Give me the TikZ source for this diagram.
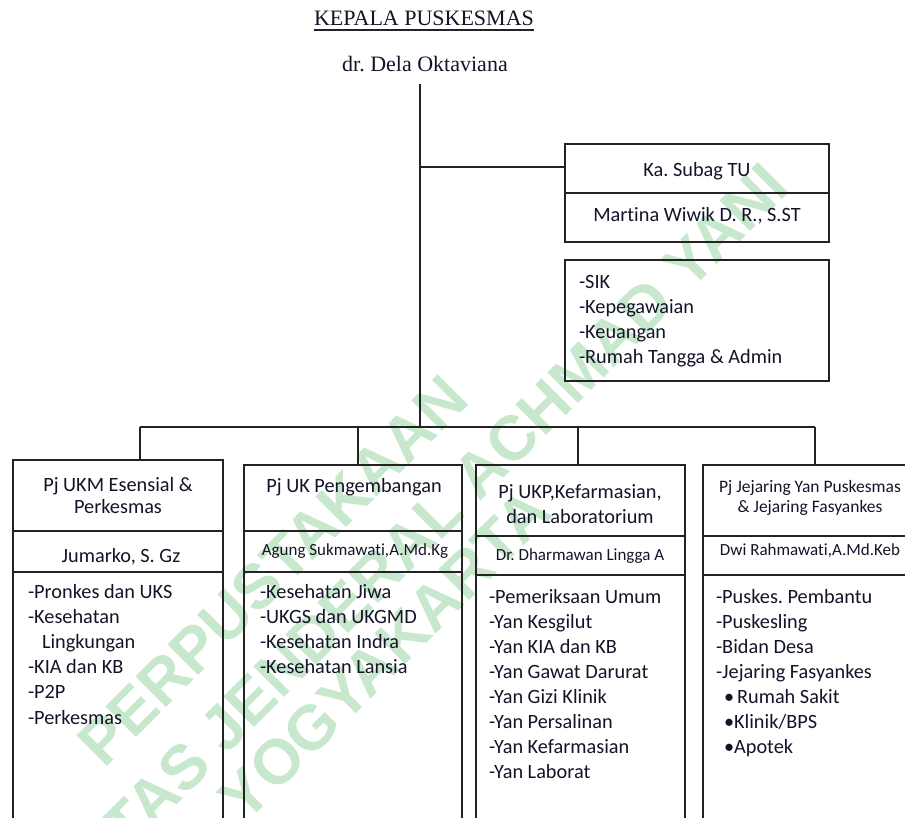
\documentclass[tikz,border=0pt]{standalone}
\usepackage{fontspec}
\setmainfont{Carlito}[Ligatures=NoCommon]
\newfontfamily\tnr{Liberation Serif}
\newfontfamily\wmfont{Liberation Sans}
\definecolor{wmc}{RGB}{200,232,205}
\definecolor{lnc}{RGB}{35,35,35}
\definecolor{txc}{RGB}{20,20,40}
\begin{document}
\frenchspacing
\begin{tikzpicture}[x=1pt,y=-1pt,
  cell/.style={draw=lnc, line width=1.3pt, inner sep=0pt, outer sep=0pt, anchor=north west},
  conn/.style={draw=lnc, line width=1.3pt},
  t/.style={inner sep=0pt, outer sep=0pt, anchor=base, align=center, text=txc, font=\fontsize{20.3}{23}\selectfont},
  ts/.style={t, font=\fontsize{17}{20}\selectfont},
  lst/.style={inner sep=0pt, outer sep=0pt, anchor=base west, align=left, text=txc, font=\fontsize{20.3}{25.2}\selectfont},
  wmk/.style={inner sep=0pt, anchor=base, rotate=45, text=wmc, font=\wmfont\bfseries\fontsize{63}{63}\selectfont}]
\path[use as bounding box] (0,0) rectangle (905,818);
\clip (0,0) rectangle (905,818);
% watermark
\node[wmk] (wm1) at (288,586) {PERPUSTAKAAN};
\node[wmk] (wm2) at (355,627) {UNIVERSITAS JENDERAL ACHMAD YANI};
\node[wmk] (wm3) at (400,670) {YOGYAKARTA};
% head (multi-line nodes are anchored at the baseline of their last line)
\node[t, font=\tnr\fontsize{22}{26}\selectfont] (title) at (424,26) {KEPALA PUSKESMAS};
\draw[lnc, line width=1.2pt] ([yshift=-4pt]title.base west) -- ([yshift=-4pt]title.base east);
\node[t, font=\tnr\fontsize{22}{26}\selectfont] (head) at (425,72) {dr. Dela Oktaviana};
% subag
\node[cell, minimum width=264pt, minimum height=49pt] (subA) at (565,144) {};
\node[cell, minimum width=264pt, minimum height=49pt] (subN) at (565,193) {};
\node[cell, minimum width=264pt, minimum height=121pt] (subL) at (565,260) {};
\node[t] (subAt) at (697,177) {Ka. Subag TU};
\node[t] (subNt) at (697,222) {Martina Wiwik D. R., S.ST};
\node[lst, font=\fontsize{20.3}{25}\selectfont] (subLt) at (579,363) {-SIK\\-Kepegawaian\\-Keuangan\\-Rumah Tangga \& Admin};
% box 1
\node[cell, minimum width=210pt, minimum height=71pt] (b1h) at (13,460) {};
\node[cell, minimum width=210pt, minimum height=41pt] (b1n) at (13,531) {};
\node[cell, minimum width=210pt, minimum height=280pt] (b1l) at (13,572) {};
\node[t, font=\fontsize{20.3}{22.5}\selectfont] (b1ht) at (118,513.5) {Pj UKM Esensial \&\\Perkesmas};
\node[t] (b1nt) at (121,562) {Jumarko, S. Gz};
\node[lst] (b1lt) at (28,724) {-Pronkes dan UKS\\-Kesehatan\\\hspace*{14pt}Lingkungan\\-KIA dan KB\\-P2P\\-Perkesmas};
% box 2
\node[cell, minimum width=218pt, minimum height=66pt] (b2h) at (244,465) {};
\node[cell, minimum width=218pt, minimum height=41pt] (b2n) at (244,531) {};
\node[cell, minimum width=218pt, minimum height=280pt] (b2l) at (244,572) {};
\node[t] (b2ht) at (354,492) {Pj UK Pengembangan};
\node[ts] (b2nt) at (355,555) {Agung Sukmawati,A.Md.Kg};
\node[lst] (b2lt) at (260,673.6) {-Kesehatan Jiwa\\-UKGS dan UKGMD\\-Kesehatan Indra\\-Kesehatan Lansia};
% box 3
\node[cell, minimum width=209pt, minimum height=71pt] (b3h) at (476,465) {};
\node[cell, minimum width=209pt, minimum height=39pt] (b3n) at (476,536) {};
\node[cell, minimum width=209pt, minimum height=280pt] (b3l) at (476,575) {};
\node[t, font=\fontsize{20.3}{25}\selectfont] (b3ht) at (580,523) {Pj UKP,Kefarmasian,\\dan Laboratorium};
\node[ts] (b3nt) at (580,560) {Dr. Dharmawan Lingga A};
\node[lst, font=\fontsize{20.3}{25}\selectfont] (b3lt) at (489,778) {-Pemeriksaan Umum\\-Yan Kesgilut\\-Yan KIA dan KB\\-Yan Gawat Darurat\\-Yan Gizi Klinik\\-Yan Persalinan\\-Yan Kefarmasian\\-Yan Laborat};
% box 4
\node[cell, minimum width=214pt, minimum height=71pt] (b4h) at (703,465) {};
\node[cell, minimum width=214pt, minimum height=39pt] (b4n) at (703,536) {};
\node[cell, minimum width=214pt, minimum height=280pt] (b4l) at (703,575) {};
\node[ts, font=\fontsize{17.5}{20.5}\selectfont] (b4ht) at (810,512.5) {Pj Jejaring Yan Puskesmas\\\& Jejaring Fasyankes};
\node[ts] (b4nt) at (810,555) {Dwi Rahmawati,A.Md.Keb};
\node[lst, font=\fontsize{20.3}{25}\selectfont] (b4lt) at (716,753) {-Puskes. Pembantu\\-Puskesling\\-Bidan Desa\\-Jejaring Fasyankes\\\hspace*{8pt}•\hspace{3pt}Rumah Sakit\\\hspace*{8pt}•Klinik/BPS\\\hspace*{8pt}•Apotek};
% connectors
\coordinate (vtop) at (420,84);
\coordinate (jsub) at (420,167);
\coordinate (bus) at (420,427);
\coordinate (k1) at (140,427);
\coordinate (k2) at (358,427);
\coordinate (k3) at (578,427);
\coordinate (k4) at (815,427);
\draw[conn] (vtop) -- (bus);
\draw[conn] (jsub) -- (jsub -| subA.west);
\draw[conn] (k1) -- (k4);
\draw[conn] (k1) -- (k1 |- b1h.north);
\draw[conn] (k2) -- (k2 |- b2h.north);
\draw[conn] (k3) -- (k3 |- b3h.north);
\draw[conn] (k4) -- (k4 |- b4h.north);
\end{tikzpicture}
\end{document}
